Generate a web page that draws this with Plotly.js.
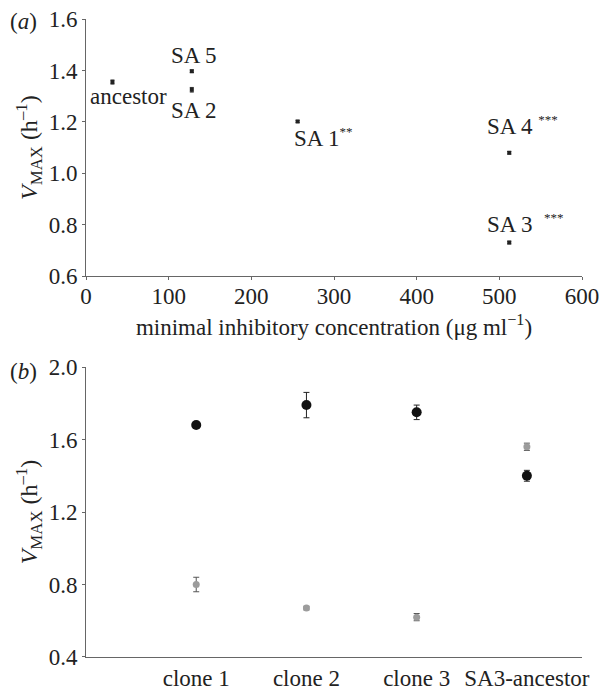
<!DOCTYPE html>
<html>
<head>
<meta charset="utf-8">
<script src="https://cdn.plot.ly/plotly-3.0.1.min.js"></script>
<style>html,body{margin:0;padding:0;background:#fff;}#chart{width:603px;height:693px;}</style>
</head>
<body>
<div id="chart"></div>
<script>
// Panel (a): MIC vs VMAX
const strainNames = ["ancestor", "SA 5", "SA 2", "SA 1", "SA 4", "SA 3"];
const micValues = [32, 128, 128, 256, 512, 512];
const vmaxA = [1.355, 1.397, 1.325, 1.202, 1.080, 0.731];
const vmaxAErr = [0.008, 0.005, 0.009, 0.004, 0.005, 0.005];

// Panel (b): clones
const cloneLabels = ["clone 1", "clone 2", "clone 3", "SA3-ancestor"];
const blackVmax = [1.68, 1.79, 1.75, 1.40];
const blackErr = [0.01, 0.07, 0.04, 0.03];
const grayVmax = [0.80, 0.67, 0.62, 1.56];
const grayErr = [0.04, 0.01, 0.02, 0.02];

const xTicksA = [0, 100, 200, 300, 400, 500, 600];
const yTicksA = [0.6, 0.8, 1.0, 1.2, 1.4, 1.6];
const yTicksB = [0.4, 0.8, 1.2, 1.6, 2.0];

const serif = "Liberation Serif";
const txt = "#222";
const axisCol = "#666";
const FS = 23;

const traces = [
  {
    x: micValues, y: vmaxA, type: "scatter", mode: "markers",
    xaxis: "x", yaxis: "y",
    marker: {symbol: "square", size: 4, color: "#222"},
    error_y: {type: "data", array: vmaxAErr, visible: true, color: "#333", thickness: 1, width: 2},
    hoverinfo: "skip"
  },
  {
    x: cloneLabels, y: grayVmax, type: "scatter", mode: "markers",
    xaxis: "x2", yaxis: "y2",
    marker: {symbol: "circle", size: 7, color: "#9c9c9c"},
    error_y: {type: "data", array: grayErr, visible: true, color: "#555", thickness: 1, width: 3},
    hoverinfo: "skip"
  },
  {
    x: cloneLabels, y: blackVmax, type: "scatter", mode: "markers",
    xaxis: "x2", yaxis: "y2",
    marker: {symbol: "circle", size: 10, color: "#111"},
    error_y: {type: "data", array: blackErr, visible: true, color: "#222", thickness: 1, width: 3},
    hoverinfo: "skip"
  }
];

const axisCommon = {
  showgrid: false, zeroline: false, showline: true, linecolor: axisCol, linewidth: 1,
  ticks: "outside", ticklen: 3, tickcolor: axisCol, tickwidth: 1,
  tickfont: {family: serif, size: FS, color: txt}
};

const ytitle = "<i>V</i><sub>MAX</sub> (h<sup>–1</sup>)";

const layout = {
  width: 603, height: 693,
  margin: {l: 86, r: 21, t: 19, b: 36},
  paper_bgcolor: "#fff", plot_bgcolor: "#fff",
  showlegend: false,
  xaxis: Object.assign({}, axisCommon, {
    domain: [0, 1], anchor: "y", range: [0, 600], tickvals: xTicksA,
    ticktext: xTicksA.map(String), ticklabelstandoff: -4,
    title: {text: "minimal inhibitory concentration (μg ml<sup>−1</sup>)", font: {family: serif, size: FS, color: txt}, standoff: 10}
  }),
  yaxis: Object.assign({}, axisCommon, {
    domain: [0.5967, 1], anchor: "x", range: [0.6, 1.6], tickvals: yTicksA,
    ticktext: yTicksA.map(v => v.toFixed(1)),
    title: {text: ytitle, font: {family: serif, size: 24, color: txt}, standoff: 4}
  }),
  xaxis2: Object.assign({}, axisCommon, {
    domain: [0, 1], anchor: "y2", type: "category", range: [-1, 3.5],
    ticks: "", tickfont: {family: serif, size: FS, color: txt}
  }),
  yaxis2: Object.assign({}, axisCommon, {
    domain: [0, 0.4545], anchor: "x2", range: [0.4, 2.0], tickvals: yTicksB,
    ticktext: yTicksB.map(v => v.toFixed(1)),
    title: {text: ytitle, font: {family: serif, size: 24, color: txt}, standoff: 4}
  }),
  annotations: []
};

const ast = s => "<sup><span style='font-size:13px'>" + s + "</span></sup>";
const lf = {family: serif, size: FS, color: txt};
layout.annotations.push(
  {text: "SA 5", x: 130.6, y: 1.46, xref: "x", yref: "y", showarrow: false, font: lf},
  {text: "ancestor", x: 52, y: 1.30, xref: "x", yref: "y", showarrow: false, font: lf},
  {text: "SA 2", x: 130.6, y: 1.246, xref: "x", yref: "y", showarrow: false, font: lf},
  {text: "SA 1" + ast("**"), x: 249, y: 1.141, xref: "x", yref: "y", xanchor: "left", showarrow: false, font: lf},
  {text: "SA 4 " + ast("***"), x: 482.5, y: 1.188, xref: "x", yref: "y", xanchor: "left", showarrow: false, font: lf},
  {text: "SA 3  " + ast("***"), x: 482.5, y: 0.806, xref: "x", yref: "y", xanchor: "left", showarrow: false, font: lf}
);

// panel labels positioned in paper coords
const plotW = 603 - 86 - 21, plotH = 693 - 19 - 36;
layout.annotations.push(
  {text: "(<i>a</i>)", x: (23 - 86) / plotW, y: (693 - 36 - 22) / plotH, xref: "paper", yref: "paper", xanchor: "center", yanchor: "middle", showarrow: false, font: lf},
  {text: "(<i>b</i>)", x: (23 - 86) / plotW, y: (693 - 36 - 371) / plotH, xref: "paper", yref: "paper", xanchor: "center", yanchor: "middle", showarrow: false, font: lf}
);

Plotly.newPlot("chart", traces, layout, {displayModeBar: false, staticPlot: true});
</script>
</body>
</html>
